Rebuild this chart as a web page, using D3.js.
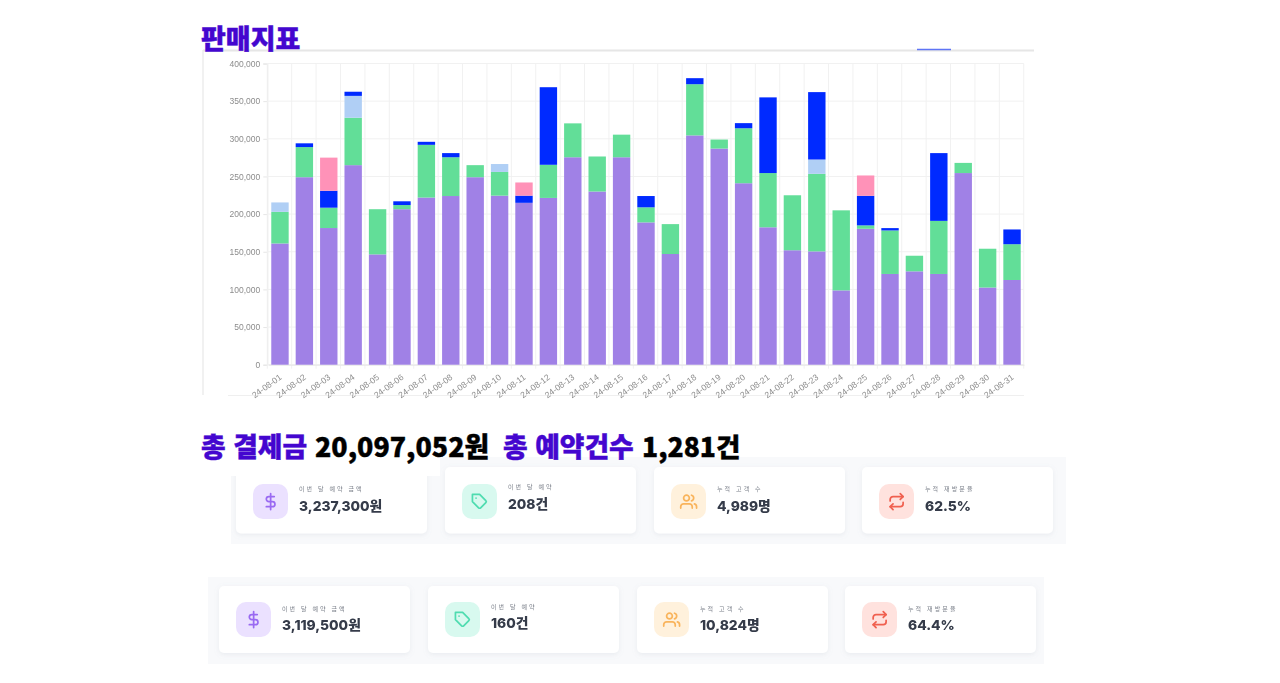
<!DOCTYPE html>
<html lang="ko">
<head>
<meta charset="utf-8">
<title>판매지표</title>
<script src="https://cdn.jsdelivr.net/npm/d3@7"></script>
<style>
  html, body { margin: 0; background: #fff; }
  svg { display: block; }
  .axis text { font-family: "Liberation Sans", Arial, sans-serif; font-size: 8.5px; fill: #8c8c8c; }
  .headline { font-family: "Noto Sans CJK KR", sans-serif; font-weight: 900; }
  .card-label { font-family: "Noto Sans CJK KR", sans-serif; font-size: 6px; fill: #7d828c; letter-spacing: 2.1px; }
  .card-value { font-family: Inter, "Noto Sans CJK KR", sans-serif; font-weight: 800; font-size: 13.8px; fill: #343b49; }
</style>
</head>
<body>
<div id="chart"></div>
<script>
const days = d3.range(1, 32).map(d => '24-08-' + String(d).padStart(2, '0'));

// segment heights per day
const purple = [161000, 249000, 181500, 265000, 146500, 206500, 222000, 224000, 249000, 224500, 215000,
  221500, 275500, 230000, 275500, 189000, 147000, 304500, 287000, 241000, 182500, 152000, 150500, 98700,
  180500, 120500, 124000, 120500, 254500, 102500, 112500];
const green = [42000, 40000, 27000, 63000, 60000, 5500, 70000, 51500, 16000, 31500, 0,
  44000, 45000, 46500, 30000, 20000, 39700, 68000, 12000, 73000, 72000, 73000, 103000, 106300,
  4500, 57800, 20700, 70500, 13500, 51500, 47500];
const lightBlue = [12500, 0, 0, 29000, 0, 0, 0, 0, 0, 10500, 0,
  0, 0, 0, 0, 0, 0, 0, 0, 0, 0, 0, 19000, 0,
  0, 0, 0, 0, 0, 0, 0];
const blue = [0, 5000, 22500, 5500, 0, 5000, 4000, 5500, 0, 0, 9500,
  103000, 0, 0, 0, 15000, 0, 8000, 0, 6800, 100500, 0, 89500, 0,
  39300, 3100, 0, 90000, 0, 0, 19600];
const pink = [0, 0, 44000, 0, 0, 0, 0, 0, 0, 0, 17500,
  0, 0, 0, 0, 0, 0, 0, 0, 0, 0, 0, 0, 0,
  27000, 0, 0, 0, 0, 0, 0];

const seriesNames = ['purple', 'green', 'lightBlue', 'blue', 'pink'];
const seriesColors = ['#a081e6', '#62de98', '#b0cff5', '#0029ff', '#ff92b8'];
const yTicks = [0, 50000, 100000, 150000, 200000, 250000, 300000, 350000, 400000];

const cardLabels = ['이번 달 예약 금액', '이번 달 예약', '누적 고객 수', '누적 재방문율'];
const cardValuesTop = ['3,237,300원', '208건', '4,989명', '62.5%'];
const cardValuesBottom = ['3,119,500원', '160건', '10,824명', '64.4%'];
const cardTints = ['#ebe1ff', '#d8f9ef', '#fff1dc', '#ffe2de'];
const cardInks = ['#9a6bf2', '#4fdcb0', '#f9b45c', '#f0604f'];

// the second card's text sits a little higher in the picture
const cardTextShift = [0, -2, 0, 0];

// feather-style outlines, 24 x 24 box
const cardIcons = [
  ['M12 1v22', 'M17 5H9.5a3.5 3.5 0 0 0 0 7h5a3.5 3.5 0 0 1 0 7H6'],
  ['M20.59 13.41l-7.17 7.17a2 2 0 0 1-2.83 0L2 12V2h10l8.59 8.59a2 2 0 0 1 0 2.82z', 'M7 7h.01'],
  ['M17 21v-2a4 4 0 0 0-4-4H5a4 4 0 0 0-4 4v2', 'M5 7a4 4 0 1 0 8 0a4 4 0 1 0-8 0', 'M23 21v-2a4 4 0 0 0-3-3.87', 'M16 3.13a4 4 0 0 1 0 7.75'],
  ['M17 1l4 4-4 4', 'M3 11V9a4 4 0 0 1 4-4h14', 'M7 23l-4-4 4-4', 'M21 13v2a4 4 0 0 1-4 4H3']
];

const svg = d3.select('#chart').append('svg').attr('width', 1280).attr('height', 683);

// the picture is a soft screenshot, so screenshots get a small blur
const defs = svg.append('defs');
defs.append('filter').attr('id', 'soft').attr('x', '-5%').attr('y', '-5%').attr('width', '110%').attr('height', '110%')
  .append('feGaussianBlur').attr('stdDeviation', 0.7);
defs.append('filter').attr('id', 'softer').attr('x', '-5%').attr('y', '-5%').attr('width', '110%').attr('height', '110%')
  .append('feGaussianBlur').attr('stdDeviation', 0.75);
const shadow = defs.append('filter').attr('id', 'cardShadow').attr('x', '-10%').attr('y', '-20%').attr('width', '120%').attr('height', '150%');
shadow.append('feDropShadow').attr('dx', 0).attr('dy', 1.5).attr('stdDeviation', 2.5)
  .attr('flood-color', '#8a94a6').attr('flood-opacity', 0.14);

// chart
const plot = { left: 267.3, right: 1023.7, top: 63.5, bottom: 364.7 };
const x = d3.scaleBand().domain(days).range([268.1, 1023.9]).paddingInner(0.287).paddingOuter(0.13);
const y = d3.scaleLinear().domain([0, 400000]).range([plot.bottom, plot.top]);

const chart = svg.append('g').attr('filter', 'url(#soft)');

// frame around the screenshot
chart.append('line').attr('x1', 203).attr('x2', 1034).attr('y1', 50.5).attr('y2', 50.5)
  .attr('stroke', '#e6e6e6').attr('stroke-width', 2);
chart.append('line').attr('x1', 917).attr('x2', 951).attr('y1', 49.5).attr('y2', 49.5)
  .attr('stroke', '#5f75f5').attr('stroke-width', 1.5);
chart.append('line').attr('x1', 203).attr('x2', 203).attr('y1', 50).attr('y2', 395)
  .attr('stroke', '#ececec').attr('stroke-width', 1.5);
chart.append('line').attr('x1', 228).attr('x2', 1024).attr('y1', 395.5).attr('y2', 395.5)
  .attr('stroke', '#efefef');

const yAxis = chart.append('g').attr('class', 'axis')
  .attr('transform', `translate(${plot.left},0)`)
  .call(d3.axisLeft(y).tickValues(yTicks).tickFormat(d3.format(',')).tickSize(4));
yAxis.select('.domain').attr('stroke', '#e6e6e6');
yAxis.selectAll('.tick line').attr('stroke', '#e6e6e6');

chart.append('g').selectAll('line').data(yTicks).join('line')
  .attr('x1', plot.left).attr('x2', plot.right)
  .attr('y1', d => y(d)).attr('y2', d => y(d))
  .attr('stroke', '#f1f1f1');

const bandEdges = d3.range(days.length + 1).map(i => plot.left + i * x.step());
chart.append('g').selectAll('line').data(bandEdges).join('line')
  .attr('x1', d => d).attr('x2', d => d)
  .attr('y1', plot.top).attr('y2', plot.bottom + 4)
  .attr('stroke', '#f1f1f1');

const xAxis = chart.append('g').attr('class', 'axis')
  .attr('transform', `translate(0,${plot.bottom})`)
  .call(d3.axisBottom(x).tickSize(0));
xAxis.select('.domain').attr('stroke', '#e6e6e6');
xAxis.selectAll('.tick text')
  .attr('text-anchor', 'end')
  .attr('transform', 'translate(-2,8) rotate(-36)')
  .attr('dy', '0.5em');

const rows = days.map((d, i) => ({
  day: d, purple: purple[i], green: green[i], lightBlue: lightBlue[i], blue: blue[i], pink: pink[i]
}));
const stacked = d3.stack().keys(seriesNames)(rows);

chart.append('g').selectAll('g').data(stacked).join('g')
  .attr('fill', (d, i) => seriesColors[i])
  .selectAll('rect').data(d => d.filter(p => p[1] > p[0])).join('rect')
  .attr('x', d => x(d.data.day))
  .attr('width', x.bandwidth())
  .attr('y', d => y(d[1]))
  .attr('height', d => y(d[0]) - y(d[1]));

// headlines
const headlines = [
  { text: '판매지표', x: 201, y: 49, fill: '#4406cf', size: 27 },
  { text: '총 결제금', x: 201, y: 457, fill: '#4406cf', size: 26.8 },
  { text: '20,097,052원', x: 315, y: 457, fill: '#000', size: 26.8 },
  { text: '총 예약건수', x: 503, y: 457, fill: '#4406cf', size: 26.8 },
  { text: '1,281건', x: 642, y: 457, fill: '#000', size: 26.5 }
];

// card strips
function drawStrip (strip, values) {
  let g = svg.append('g').attr('filter', 'url(#softer)');
  g.append('rect').attr('x', strip.x).attr('y', strip.y).attr('width', strip.width).attr('height', strip.height)
    .attr('fill', '#f8f9fb');
  let cards = g.selectAll('g.card').data(values).join('g').attr('class', 'card')
    .attr('transform', (d, i) => `translate(${strip.cardX[i]},${strip.cardY})`);
  cards.append('rect').attr('width', 191).attr('height', strip.cardHeight).attr('rx', 5)
    .attr('fill', '#fff').attr('filter', 'url(#cardShadow)');
  cards.append('rect').attr('x', 17).attr('y', strip.iconY).attr('width', 35).attr('height', 35).attr('rx', 10)
    .attr('fill', (d, i) => cardTints[i]);
  cards.each(function (d, i) {
    d3.select(this).append('g')
      .attr('transform', `translate(26,${strip.iconY + 9}) scale(0.72)`)
      .selectAll('path').data(cardIcons[i]).join('path')
      .attr('d', p => p)
      .attr('fill', 'none')
      .attr('stroke', cardInks[i])
      .attr('stroke-width', 2.4)
      .attr('stroke-linecap', 'round')
      .attr('stroke-linejoin', 'round');
  });
  cards.append('text').attr('class', 'card-label').attr('x', 63)
    .attr('y', (d, i) => strip.labelY + cardTextShift[i])
    .text((d, i) => cardLabels[i]);
  cards.append('text').attr('class', 'card-value').attr('x', 63)
    .attr('y', (d, i) => strip.valueY + cardTextShift[i])
    .text(d => d);
  // the headline screenshot covers the top of the first card
  if (strip.cut) {
    g.append('rect').attr('x', strip.x - 4).attr('y', strip.y - 4).attr('width', strip.cut.width).attr('height', strip.cut.height)
      .attr('fill', '#fff');
  }
}

drawStrip({
  x: 231, y: 457, width: 835, height: 87,
  cut: { width: 213, height: 23 },
  cardX: [236, 445, 654, 862], cardY: 467, cardHeight: 66.5,
  iconY: 17, labelY: 24, valueY: 44
}, cardValuesTop);

drawStrip({
  x: 208, y: 577, width: 836, height: 87,
  cardX: [219, 428, 637, 845], cardY: 586, cardHeight: 67,
  iconY: 16, labelY: 24.5, valueY: 44
}, cardValuesBottom);

svg.append('g').selectAll('text').data(headlines).join('text')
  .attr('class', 'headline')
  .attr('x', d => d.x).attr('y', d => d.y)
  .attr('fill', d => d.fill)
  .attr('stroke', d => d.fill)
  .attr('stroke-width', 0.4)
  .style('font-size', d => d.size + 'px')
  .text(d => d.text);
</script>
</body>
</html>
